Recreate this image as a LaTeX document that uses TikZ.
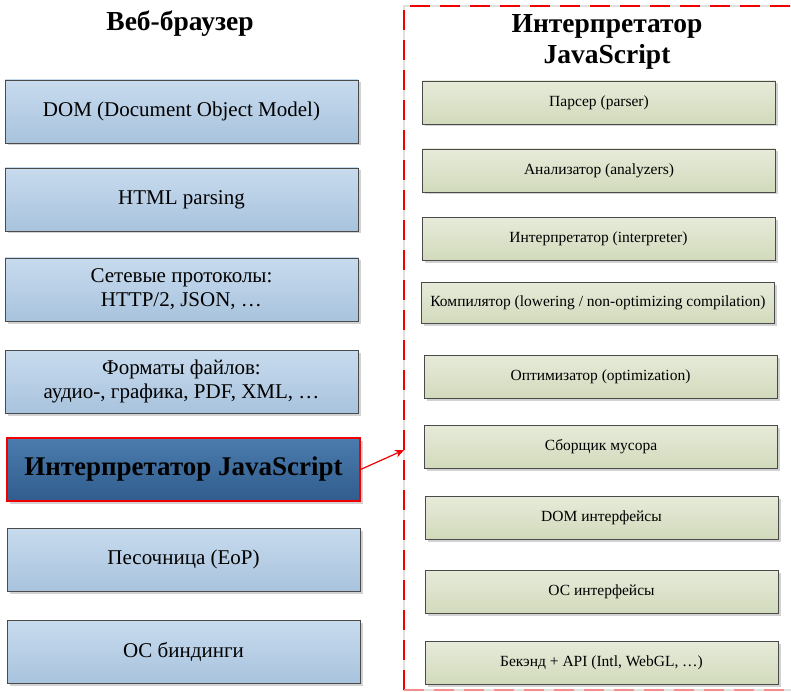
\documentclass[tikz,border=0pt]{standalone}
\usepackage{fontspec}
\setmainfont{Liberation Serif}
\usetikzlibrary{shadows,arrows.meta}
\definecolor{lbtop}{HTML}{C8DBEE}
\definecolor{lbbot}{HTML}{A8C3DD}
\definecolor{hltop}{HTML}{4B7CAE}
\definecolor{hlbot}{HTML}{305D8C}
\definecolor{gtop}{HTML}{E6EBD9}
\definecolor{gbot}{HTML}{D2DABC}
\definecolor{bordergray}{HTML}{4A4A4A}
\definecolor{dashred}{HTML}{F00000}
\tikzset{
  leftbox/.style={draw=bordergray, line width=0.9pt, top color=lbtop, bottom color=lbbot,
    minimum width=353pt, minimum height=63pt, inner sep=0pt, align=center,
    font=\fontsize{21}{24}\selectfont,
    drop shadow={shadow xshift=2.5pt, shadow yshift=-2.5pt, fill=black!35, opacity=0.5}},
  hlbox/.style={draw=dashred, line width=1.1pt, top color=hltop, bottom color=hlbot,
    minimum width=353pt, minimum height=63pt, inner sep=0pt, align=center,
    font=\fontsize{27}{31}\selectfont\bfseries,
    drop shadow={shadow xshift=2.5pt, shadow yshift=-2.5pt, fill=black!35, opacity=0.5}},
  rightbox/.style={draw=bordergray, line width=0.9pt, top color=gtop, bottom color=gbot,
    minimum width=353pt, minimum height=43pt, inner sep=0pt, align=center,
    font=\fontsize{15.5}{18}\selectfont,
    drop shadow={shadow xshift=2.5pt, shadow yshift=-2.5pt, fill=black!35, opacity=0.5}},
  titletext/.style={font=\fontsize{27.5}{31}\selectfont\bfseries, align=center, inner sep=0pt},
  conn/.style={draw=dashred, line width=1.2pt, -{Stealth[length=9pt,width=8pt]}},
}
\begin{document}
\begin{tikzpicture}[x=1pt,y=-1pt]
\useasboundingbox (0,0) rectangle (791,692);
\clip (0,0) rectangle (791,692);
% dashed frame
\draw[black!12, line width=2pt] (404,6) rectangle (830,690);
\draw[dashred, line width=2pt, dash pattern=on 20pt off 10pt] (404,690) -- (404,6) -- (830,6);
\draw[dashred!45, line width=2pt, dash pattern=on 20pt off 10pt] (404,690) -- (830,690);
\coordinate (frameleft) at (404,450);
% titles
\node[titletext] (t1) at (180,24) {Веб-браузер};
\node[titletext] (t2) at (607,42) {Интерпретатор\\JavaScript};
% left boxes
\node[leftbox] (l1) at (181.5,111.5) {DOM (Document Object Model)};
\node[leftbox] (l2) at (181.5,199.5) {HTML parsing};
\node[leftbox] (l3) at (181.5,289.5) {Сетевые протоколы:\\HTTP/2, JSON, …};
\node[leftbox] (l4) at (181.5,381.5) {Форматы файлов:\\аудио-, графика, PDF, XML, …};
\node[hlbox] (l5) at (183.5,469.5) {Интерпретатор JavaScript};
\node[leftbox] (l6) at (183.5,559.5) {Песочница (EoP)};
\node[leftbox] (l7) at (183.5,652) {ОС биндинги};
% right boxes
\node[rightbox] (r1) at (599,102.5) {Парсер (parser)};
\node[rightbox] (r2) at (599,170.5) {Анализатор (analyzers)};
\node[rightbox] (r3) at (598.5,239) {Интерпретатор (interpreter)};
\node[rightbox, minimum height=41pt] (r4) at (598,303) {Компилятор (lowering / non-optimizing compilation)};
\node[rightbox] (r5) at (600.5,376.5) {Оптимизатор (optimization)};
\node[rightbox] (r6) at (601,446.5) {Сборщик мусора};
\node[rightbox] (r7) at (601.5,517.5) {DOM интерфейсы};
\node[rightbox] (r8) at (601.5,591.5) {ОС интерфейсы};
\node[rightbox] (r9) at (601.5,663) {Бекэнд + API (Intl, WebGL, …)};
% connector
\draw[conn] (l5.east) -- (frameleft);
\end{tikzpicture}
\end{document}
